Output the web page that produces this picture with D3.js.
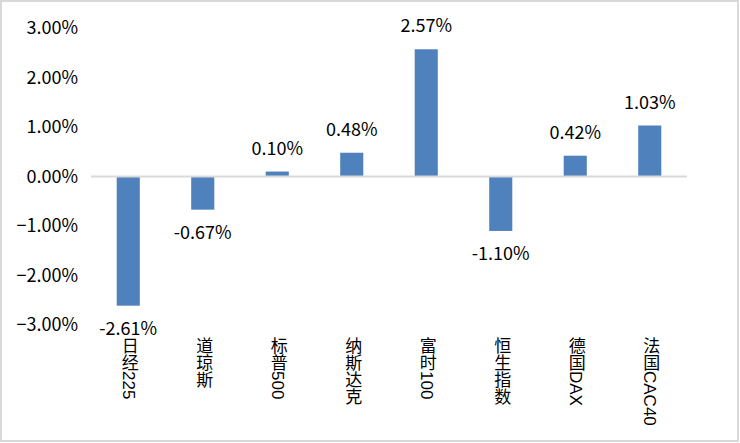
<!DOCTYPE html>
<html><head><meta charset="utf-8">
<script src="https://cdn.jsdelivr.net/npm/d3@7"></script>
<style>
html,body{margin:0;padding:0;background:#fff;}
svg{display:block;}
text{font-family:"Noto Sans CJK SC","Microsoft YaHei",sans-serif;fill:#000;}
</style></head>
<body>
<script>
const categories = ["日经225","道琼斯","标普500","纳斯达克","富时100","恒生指数","德国DAX","法国CAC40"];
const values = [-2.61,-0.67,0.10,0.48,2.57,-1.10,0.42,1.03];
const tickValues = [3,2,1,0,-1,-2,-3];

const W=740,H=443;
const svg=d3.select("body").append("svg").attr("width",W).attr("height",H);
svg.append("rect").attr("x",1).attr("y",1).attr("width",W-3).attr("height",H-3)
  .attr("fill","#fff").attr("stroke","#d9d9d9").attr("stroke-width",2);

const x=d3.scaleBand().domain(categories).range([91,687]).paddingInner(0.69).paddingOuter(0.345);
const y=d3.scaleLinear().domain([-3,3]).range([325,28]);

// y axis labels
const yAxis=d3.axisLeft(y).tickValues(tickValues).tickSize(0).tickPadding(0)
  .tickFormat(d=>d3.format(".2f")(d)+"%");
const ga=svg.append("g").attr("transform","translate(78,0)").call(yAxis);
ga.select(".domain").remove();
ga.selectAll("text").style("font-size","18px").attr("fill","#000").attr("font-family",null);

// bars
svg.append("g").selectAll("rect").data(values).join("rect")
  .attr("x",(d,i)=>x(categories[i]))
  .attr("width",x.bandwidth())
  .attr("y",d=>y(Math.max(0,d)))
  .attr("height",d=>Math.abs(y(d)-y(0)))
  .attr("fill","#4f81bd");

// zero line
svg.append("line").attr("x1",91).attr("x2",687).attr("y1",y(0)).attr("y2",y(0))
  .attr("stroke","#d9d9d9").attr("stroke-width",2);

// value labels
svg.append("g").selectAll("text").data(values).join("text")
  .attr("x",(d,i)=>x(categories[i])+x.bandwidth()/2)
  .attr("y",d=>d>=0? y(d)-17 : y(d)+29)
  .attr("text-anchor","middle")
  .style("font-size","18px")
  .text(d=>d.toFixed(2)+"%");

// category labels (vertical)
svg.append("g").selectAll("text").data(categories).join("text")
  .attr("x",d=>x(d)+x.bandwidth()/2)
  .attr("y",337)
  .style("writing-mode","vertical-rl")
  .style("font-size","17px")
  .style("font-family","'Liberation Sans','Noto Sans CJK SC',sans-serif")
  .attr("text-anchor","start")
  .text(d=>d);
</script>
</body></html>
